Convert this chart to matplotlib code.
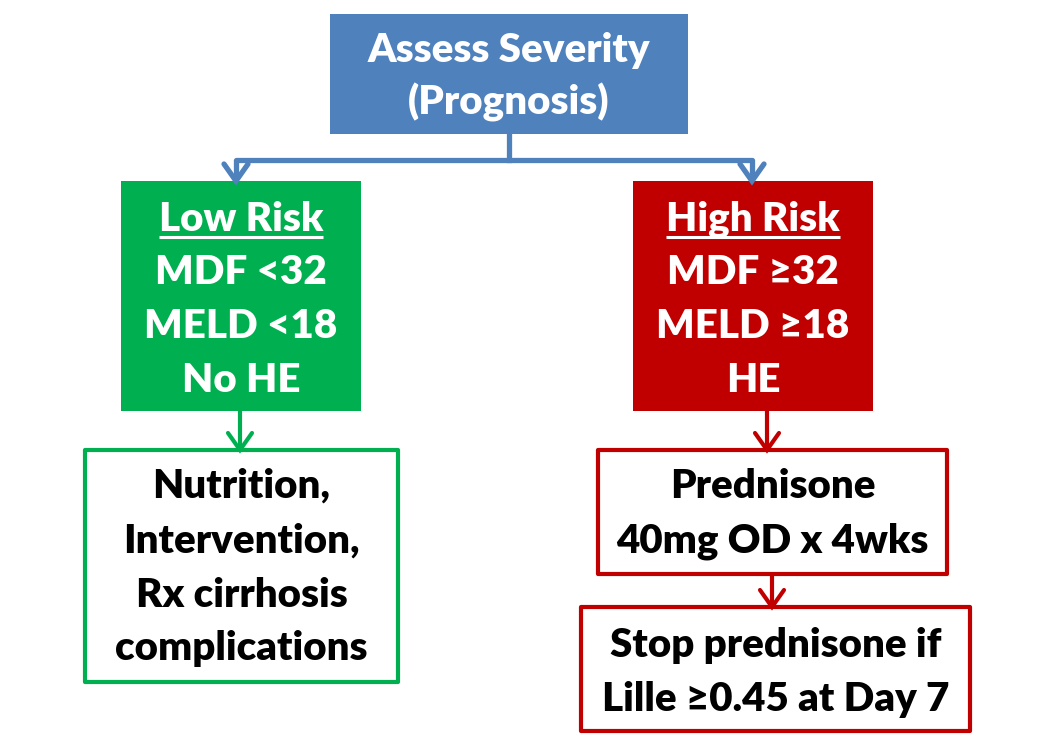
import matplotlib
matplotlib.use("Agg")
import matplotlib.pyplot as plt
from matplotlib.patches import Rectangle

BLUE = "#4F81BD"
GREEN = "#00B050"
RED = "#C00000"

# boxes: (x0, y0, x1, y1) in pixel space, y down
top_box = (330, 14, 688, 134)
low_box = (121, 181, 361, 411)
high_box = (633, 181, 873, 411)
low_rx_box = (85, 450, 398, 682)
pred_box = (598, 450, 947, 574)
stop_box = (581, 607, 970, 731)

top_lines = ["Assess Severity", "(Prognosis)"]
top_baselines = [62, 115]
low_lines = ["Low Risk", "MDF <32", "MELD <18", "No HE"]
high_lines = ["High Risk", "MDF \u226532", "MELD \u226518", "HE"]
risk_baselines = [231, 284, 338, 392]
low_rx_lines = ["Nutrition,", "Intervention,", "Rx cirrhosis", "complications"]
low_rx_baselines = [498, 553, 607, 660]
pred_lines = ["Prednisone", "40mg OD x 4wks"]
pred_baselines = [498, 552]
stop_lines = ["Stop prednisone if", "Lille \u22650.45 at Day 7"]
stop_baselines = [657, 711]

FONT = ["Lato", "DejaVu Sans"]
FS = 29
WEIGHT = "heavy"

fig = plt.figure(figsize=(10.5, 7.5), dpi=100)
ax = fig.add_axes([0, 0, 1, 1])
ax.set_xlim(0, 1050)
ax.set_ylim(750, 0)
ax.axis("off")


def box(b, face, edge, lw=0):
    x0, y0, x1, y1 = b
    ax.add_patch(Rectangle((x0, y0), x1 - x0, y1 - y0, facecolor=face,
                           edgecolor=edge, linewidth=lw, joinstyle="round"))


def lines(b, texts, baselines, color, underline_first=False):
    cx = (b[0] + b[2]) / 2
    for i, (t, y) in enumerate(zip(texts, baselines)):
        txt = ax.text(cx, y, t, ha="center", va="baseline", fontsize=FS,
                      fontweight=WEIGHT, color=color, family=FONT)
        if underline_first and i == 0:
            fig.canvas.draw()
            bb = txt.get_window_extent().transformed(ax.transData.inverted())
            ax.plot([bb.x0, bb.x1], [y + 6, y + 6], color=color, lw=2.2,
                    solid_capstyle="butt")


def arrow(x, y0, y1, color, lw=3.0):
    ax.plot([x, x], [y0, y1 - 2], color=color, lw=lw, solid_capstyle="butt")
    ax.plot([x - 12, x, x + 12], [y1 - 17, y1, y1 - 17], color=color, lw=lw,
            solid_joinstyle="miter", solid_capstyle="round")


box(top_box, BLUE, BLUE)
box(low_box, GREEN, GREEN)
box(high_box, RED, RED)
box(low_rx_box, "white", GREEN, 3.0)
box(pred_box, "white", RED, 3.0)
box(stop_box, "white", RED, 3.0)

# blue connector
mid = (top_box[0] + top_box[2]) / 2
xl = (low_box[0] + low_box[2]) / 2 - 5
xr = (high_box[0] + high_box[2]) / 2 - 1
ax.plot([mid, mid], [top_box[3], 160], color=BLUE, lw=3.8)
ax.plot([xl, xr], [160, 160], color=BLUE, lw=3.8, solid_capstyle="round")
arrow(xl, 160, low_box[1], BLUE, 3.8)
arrow(xr, 160, high_box[1], BLUE, 3.8)

arrow(240, low_box[3], low_rx_box[1], GREEN)
arrow(767, high_box[3], pred_box[1], RED)
arrow(772, pred_box[3], stop_box[1], RED)

lines(top_box, top_lines, top_baselines, "white")
lines(low_box, low_lines, risk_baselines, "white", underline_first=True)
lines(high_box, high_lines, risk_baselines, "white", underline_first=True)
lines(low_rx_box, low_rx_lines, low_rx_baselines, "black")
lines(pred_box, pred_lines, pred_baselines, "black")
lines(stop_box, stop_lines, stop_baselines, "black")

fig.savefig("out.png", dpi=100, facecolor="white")
